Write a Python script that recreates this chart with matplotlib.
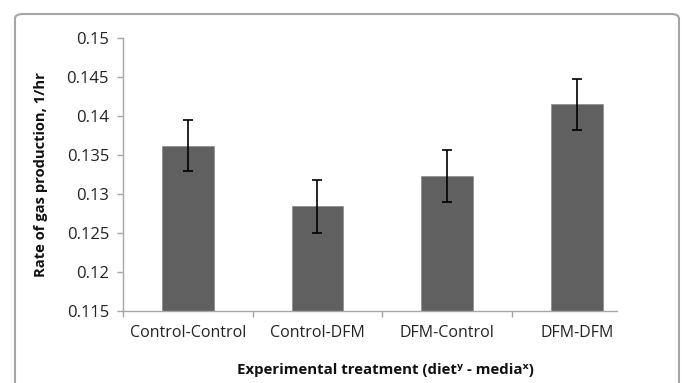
import matplotlib
matplotlib.use("Agg")
import matplotlib.pyplot as plt
from matplotlib.patches import FancyBboxPatch
import numpy as np

categories = ["Control-Control", "Control-DFM", "DFM-Control", "DFM-DFM"]
rates = [0.1362, 0.1284, 0.1323, 0.1415]
errors = [0.0033, 0.0034, 0.0033, 0.0033]
yticks = [0.115, 0.12, 0.125, 0.13, 0.135, 0.14, 0.145, 0.15]
ytick_labels = ["0.115", "0.12", "0.125", "0.13", "0.135", "0.14", "0.145", "0.15"]

plt.rcParams['font.family'] = ['Open Sans', 'DejaVu Sans']

W, H = 682, 383
fig = plt.figure(figsize=(W / 100, H / 100), dpi=100)
ax = fig.add_axes([123 / W, 1 - 311 / H, (617 - 123) / W, (311 - 38) / H])

axis_col = "#a6a6a6"
x = np.arange(len(categories))
ax.bar(x, rates, width=0.40, color="#606060", edgecolor="#8a8a8a", linewidth=0.5, zorder=2)
ax.errorbar(x, rates, yerr=errors, fmt="none", ecolor="black", elinewidth=1.2,
            capsize=3.5, capthick=1.2, zorder=3)

ax.set_ylim(0.115, 0.15)
ax.set_xlim(-0.5, 3.31)
ax.set_yticks(yticks)
ax.set_yticklabels(ytick_labels, fontsize=12, color="#222222")
ax.set_xticks(x)
ax.set_xticklabels(categories, fontsize=11.5, color="#222222")
ax.set_xticks([-0.5, 0.5, 1.5, 2.5], minor=True)
ax.tick_params(axis="x", which="major", length=0, pad=10)
ax.tick_params(axis="x", which="minor", length=4, color=axis_col, width=1)
ax.tick_params(axis="y", length=4, color=axis_col, width=1, pad=6)

for s in ["top", "right"]:
    ax.spines[s].set_visible(False)
for s in ["left", "bottom"]:
    ax.spines[s].set_color(axis_col)
    ax.spines[s].set_linewidth(1)

ax.set_ylabel("Rate of gas production, 1/hr", fontsize=10.6, fontweight="bold",
              color="#111111", va="center")
ax.yaxis.set_label_coords(-(123 - 41) / (617 - 123), (311 - 175) / (311 - 38))

fig.text(385 / W, 1 - 370 / H, "Experimental treatment (dietʸ - mediaˣ)",
         ha="center", va="center", fontsize=10.8, fontweight="bold", color="#111111")

border = FancyBboxPatch((15 / W, -20 / H), (679 - 15) / W, (383 + 20 - 14) / H,
                        boxstyle="round,pad=0,rounding_size=0.012",
                        transform=fig.transFigure, facecolor="none",
                        edgecolor="#a6a6a6", linewidth=1.5, clip_on=False)
fig.patches.append(border)

fig.savefig("out.png", dpi=100)
